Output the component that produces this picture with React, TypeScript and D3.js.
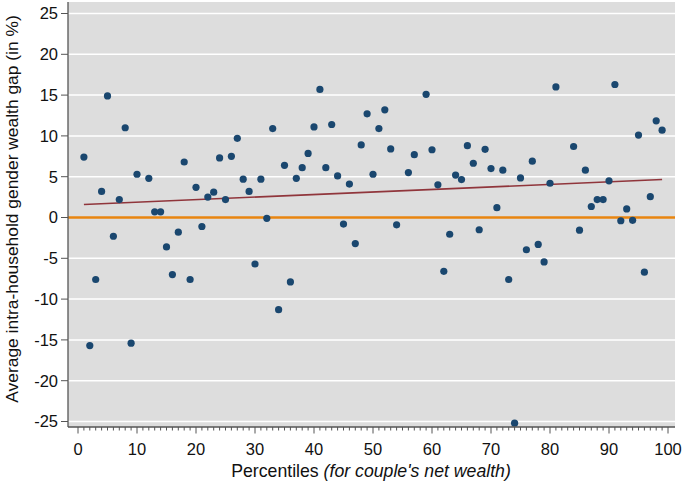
import React from "react";
import * as d3 from "d3";

const percentiles = [1,2,3,4,5,6,7,8,9,10,12,13,14,15,16,17,18,19,20,21,22,23,24,25,26,27,28,29,30,31,32,33,34,35,36,37,38,39,40,41,42,43,44,45,46,47,48,49,50,51,52,53,54,56,57,59,60,61,62,63,64,65,66,67,68,69,70,71,72,73,74,75,76,77,78,79,80,81,84,85,86,87,88,89,90,91,92,93,94,95,96,97,98,99];
const gaps = [7.4,-15.7,-7.6,3.2,14.9,-2.3,2.2,11.0,-15.4,5.3,4.8,0.7,0.7,-3.6,-7.0,-1.8,6.8,-7.6,3.7,-1.1,2.5,3.1,7.3,2.2,7.5,9.7,4.7,3.2,-5.7,4.7,-0.1,10.9,-11.3,6.4,-7.9,4.8,6.1,7.85,11.1,15.7,6.1,11.4,5.1,-0.8,4.1,-3.2,8.9,12.7,5.3,10.9,13.2,8.4,-0.9,5.5,7.7,15.1,8.3,4.0,-6.6,-2.05,5.2,4.65,8.8,6.65,-1.5,8.35,6.0,1.2,5.8,-7.6,-25.2,4.85,-3.95,6.9,-3.3,-5.45,4.2,16.0,8.7,-1.55,5.8,1.35,2.2,2.2,4.5,16.3,-0.4,1.05,-0.35,10.1,-6.7,2.55,11.85,10.7];
const fitX = [1, 99];
const fitY = [1.6, 4.65];
const yTicks = [25,20,15,10,5,0,-5,-10,-15,-20,-25];
const xTicks = [0,10,20,30,40,50,60,70,80,90,100];

export default function App() {
  const W = 685, H = 484;
  const left = 68, right = 675, top = 2, bottom = 427;
  const x = d3.scaleLinear().domain([0, 100]).range([78, 668]);
  const y = d3.scaleLinear().domain([-25, 25]).range([421.5, 13.5]);
  const minor = d3.range(0, 101, 1);
  const font = "'Liberation Sans', Arial, Helvetica, sans-serif";
  const line = d3.line<number>().x((_, i) => x(fitX[i])).y((d) => y(d));
  return (
    <svg width={W} height={H} style={{ position: "absolute", left: 0, top: 0, background: "#fff" }} fontFamily={font}>
      <rect x={left} y={top} width={right - left} height={bottom - top} fill="#dddddd" />
      {yTicks.filter((t) => t !== 0).map((t) => (
        <line key={"g" + t} x1={left} x2={right} y1={y(t)} y2={y(t)} stroke="#ffffff" strokeWidth={1.5} />
      ))}
      <line x1={left} x2={right} y1={y(0)} y2={y(0)} stroke="#e8850f" strokeWidth={2.5} />
      <path d={line(fitY) || ""} fill="none" stroke="#90353b" strokeWidth={1.6} />
      {percentiles.map((p, i) => (
        <circle key={p} cx={x(p)} cy={y(gaps[i])} r={3.6} fill="#1a476f" />
      ))}
      <line x1={left} x2={left} y1={top} y2={bottom} stroke="#555" strokeWidth={1.3} />
      <line x1={left} x2={right} y1={bottom} y2={bottom} stroke="#555" strokeWidth={1.3} />
      {yTicks.map((t) => (
        <g key={"y" + t}>
          <line x1={left - 7} x2={left} y1={y(t)} y2={y(t)} stroke="#555" strokeWidth={1} />
          <text x={left - 10} y={y(t)} dy="0.36em" textAnchor="end" fontSize={16.5} fill="#111">{t}</text>
        </g>
      ))}
      {minor.map((m) => (
        <line key={"m" + m} x1={x(m)} x2={x(m)} y1={bottom} y2={bottom + (m % 10 === 0 ? 6.5 : 3.5)} stroke="#555" strokeWidth={1} />
      ))}
      {xTicks.map((t) => (
        <text key={"x" + t} x={x(t)} y={455} textAnchor="middle" fontSize={16.5} fill="#111">{t}</text>
      ))}
      <text x={371} y={477} textAnchor="middle" fontSize={17.7} fill="#111">
        Percentiles <tspan fontStyle="italic">(for couple's net wealth)</tspan>
      </text>
      <text transform={`translate(18,209) rotate(-90)`} textAnchor="middle" fontSize={17.4} fill="#111">
        Average intra-household gender wealth gap (in %)
      </text>
    </svg>
  );
}
